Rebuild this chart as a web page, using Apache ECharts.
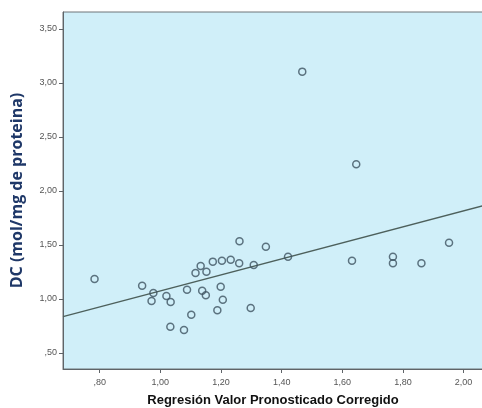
<!DOCTYPE html>
<html>
<head>
<meta charset="utf-8">
<script src="https://cdn.jsdelivr.net/npm/echarts@6/dist/echarts.min.js"></script>
<style>
  html, body { margin: 0; padding: 0; background: #fff; }
  #chart { width: 482px; height: 408px; }
</style>
</head>
<body>
<div id="chart"></div>
<script>
// valor pronosticado corregido (x) y DC (y)
const xValues = [0.783, 0.940, 0.977, 0.971, 1.020, 1.034, 1.033, 1.261, 1.348, 1.173,
  1.203, 1.232, 1.260, 1.308, 1.133, 1.116, 1.152, 1.088, 1.138, 1.150,
  1.199, 1.206, 1.188, 1.298, 1.102, 1.078, 1.421, 1.632, 1.952, 1.767,
  1.767, 1.861, 1.468, 1.646];
const yValues = [1.185, 1.123, 1.056, 0.981, 1.028, 0.972, 0.744, 1.534, 1.484, 1.346,
  1.355, 1.364, 1.330, 1.315, 1.306, 1.241, 1.253, 1.086, 1.077, 1.034,
  1.114, 0.994, 0.895, 0.917, 0.855, 0.713, 1.392, 1.355, 1.521, 1.392,
  1.330, 1.330, 3.105, 2.247];

// recta de regresión
const fitIntercept = 0.332;
const fitSlope = 0.742;

const xTicks = [0.8, 1.0, 1.2, 1.4, 1.6, 1.8, 2.0];
const yTicks = [0.5, 1.0, 1.5, 2.0, 2.5, 3.0, 3.5];
const xRange = [0.679, 2.064];
const yRange = [0.352, 3.657];

const fmt = (v) => {
  const s = v.toFixed(2).replace(".", ",");
  return s.startsWith("0") ? s.slice(1) : s;
};

const points = xValues.map((x, i) => [x, yValues[i]]);
const fitLine = xRange.map((x) => [x, fitIntercept + fitSlope * x]);

const chart = echarts.init(document.getElementById("chart"));
chart.setOption({
  animation: false,
  grid: {
    left: 63,
    top: 12,
    right: -1,
    bottom: 39,
    outerBoundsMode: "none",
    show: true,
    backgroundColor: "#d0eff9",
    borderColor: "#6f7478",
    borderWidth: 1,
  },
  xAxis: {
    type: "value",
    min: xRange[0],
    max: xRange[1],
    name: "Regresión Valor Pronosticado Corregido",
    nameLocation: "middle",
    nameGap: 25,
    nameTextStyle: {
      fontFamily: "Liberation Sans",
      fontWeight: "bold",
      fontSize: 13,
      color: "#111",
    },
    axisLine: { lineStyle: { color: "#5f6468", width: 1 } },
    axisTick: {
      show: true,
      length: 4,
      customValues: xTicks,
      lineStyle: { color: "#5f6468" },
    },
    axisLabel: {
      customValues: xTicks,
      formatter: fmt,
      fontFamily: "Liberation Sans",
      fontSize: 9,
      color: "#555",
      margin: 9,
    },
    splitLine: { show: false },
  },
  yAxis: {
    type: "value",
    min: yRange[0],
    max: yRange[1],
    name: "DC (mol/mg de proteina)",
    nameLocation: "middle",
    nameGap: 38,
    nameTextStyle: {
      fontFamily: "Open Sans",
      fontWeight: "bold",
      fontSize: 16,
      color: "#1f3868",
    },
    axisLine: { show: true, lineStyle: { color: "#5f6468", width: 1 } },
    axisTick: {
      show: true,
      length: 4,
      customValues: yTicks,
      lineStyle: { color: "#5f6468" },
    },
    axisLabel: {
      customValues: yTicks,
      formatter: fmt,
      fontFamily: "Liberation Sans",
      fontSize: 9,
      color: "#555",
      margin: 6,
    },
    splitLine: { show: false },
  },
  series: [
    {
      type: "line",
      data: fitLine,
      showSymbol: false,
      lineStyle: { color: "#4d605c", width: 1.3 },
      z: 2,
    },
    {
      type: "scatter",
      data: points,
      symbol: "circle",
      symbolSize: 7,
      itemStyle: {
        color: "rgba(0,0,0,0)",
        borderColor: "#3d5260",
        borderWidth: 1.5,
      },
      z: 3,
    },
  ],
});
</script>
</body>
</html>
